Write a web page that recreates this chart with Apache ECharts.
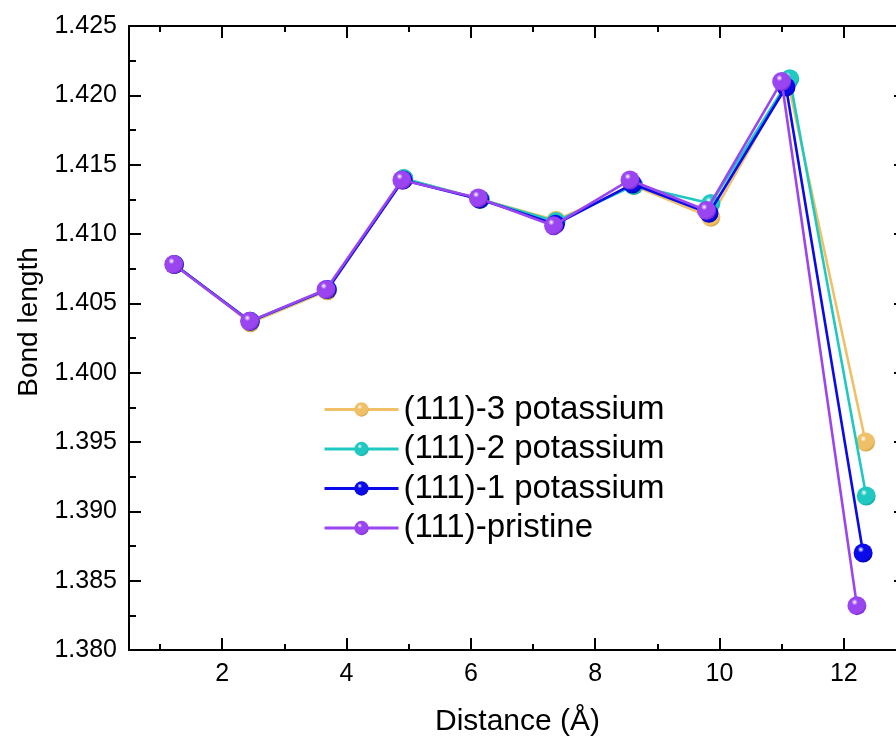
<!DOCTYPE html>
<html>
<head>
<meta charset="utf-8">
<script src="https://cdn.jsdelivr.net/npm/echarts@6/dist/echarts.min.js"></script>
<style>
html,body{margin:0;padding:0;background:#fff;}
#chart{width:896px;height:740px;}
</style>
</head>
<body>
<div id="chart"></div>
<script>
// ---- data ----
var seriesNames = ['(111)-3 potassium', '(111)-2 potassium', '(111)-1 potassium', '(111)-pristine'];

var k3X = [1.23, 2.45, 3.69, 4.92, 6.15, 7.37, 8.62, 9.86, 11.10, 12.35];
var k3Y = [1.4078, 1.4036, 1.4059, 1.4140, 1.4125, 1.4110, 1.4135, 1.4112, 1.4210, 1.3950];

var k2X = [1.23, 2.45, 3.69, 4.92, 6.15, 7.37, 8.62, 9.86, 11.13, 12.36];
var k2Y = [1.4078, 1.4037, 1.4060, 1.4140, 1.4125, 1.4109, 1.4135, 1.4122, 1.4212, 1.3911];

var k1X = [1.23, 2.45, 3.69, 4.91, 6.14, 7.36, 8.60, 9.83, 11.07, 12.31];
var k1Y = [1.4078, 1.4037, 1.4060, 1.4139, 1.4125, 1.4107, 1.4136, 1.4115, 1.4206, 1.3870];

var prX = [1.22, 2.44, 3.67, 4.89, 6.12, 7.33, 8.56, 9.79, 11.00, 12.21];
var prY = [1.4078, 1.4037, 1.4060, 1.4139, 1.4126, 1.4106, 1.4139, 1.4117, 1.4210, 1.3832];

var xMajorTicks = [2, 4, 6, 8, 10, 12];
var xMinorTicks = [1, 3, 5, 7, 9, 11, 13];

// ---- styling ----
var colors = ['#EFC067', '#1FC9C1', '#0A0AEB', '#9B45F0'];
var darks  = ['#C9962F', '#0F9C95', '#00009A', '#6A1DC0'];
var FONT = 'Liberation Sans, Arial, sans-serif';

function zip(xs, ys) { return xs.map(function (x, i) { return [x, ys[i]]; }); }
function ball(i) {
  return {
    type: 'radial', x: 0.38, y: 0.32, r: 0.75,
    colorStops: [
      { offset: 0, color: '#ffffff' },
      { offset: 0.22, color: colors[i] },
      { offset: 0.75, color: colors[i] },
      { offset: 1, color: darks[i] }
    ]
  };
}

var datasets = [zip(k3X, k3Y), zip(k2X, k2Y), zip(k1X, k1Y), zip(prX, prY)];

var axisLineStyle = { color: '#000', width: 2 };

function xAxisDef(pos, ticks, len, labels, name) {
  var a = {
    type: 'value', position: pos, min: 0.5, max: 13, gridIndex: 0,
    axisLine: { show: true, onZero: false, lineStyle: axisLineStyle },
    axisTick: { show: true, inside: true, length: len, customValues: ticks, lineStyle: { color: '#000', width: 2 } },
    axisLabel: labels ? { show: true, customValues: ticks, color: '#000', fontSize: 25, fontFamily: FONT, margin: 12 } : { show: false },
    splitLine: { show: false }
  };
  if (name) {
    a.name = name; a.nameLocation = 'middle'; a.nameGap = 57;
    a.nameTextStyle = { color: '#000', fontSize: 30, fontFamily: FONT };
  }
  return a;
}

function yAxisDef(pos, labels, name) {
  var a = {
    type: 'value', position: pos, min: 1.380, max: 1.425, interval: 0.005,
    axisLine: { show: true, onZero: false, lineStyle: axisLineStyle },
    axisTick: { show: true, inside: true, length: 12, lineStyle: { color: '#000', width: 2 } },
    minorTick: { show: true, splitNumber: 2, length: 7, lineStyle: { color: '#000', width: 2 } },
    axisLabel: labels ? { show: true, color: '#000', fontSize: 25, fontFamily: FONT, margin: 12,
      formatter: function (v) { return v.toFixed(3); } } : { show: false },
    splitLine: { show: false }
  };
  if (name) {
    a.name = name; a.nameLocation = 'middle'; a.nameGap = 86;
    a.nameTextStyle = { color: '#000', fontSize: 28, fontFamily: FONT, padding: [0, 0, 0, 32] };
  }
  return a;
}

var series = datasets.map(function (d, i) {
  return {
    name: seriesNames[i], type: 'line', data: d,
    xAxisIndex: 0, yAxisIndex: 0,
    symbol: 'circle', symbolSize: 19, showSymbol: true,
    lineStyle: { color: colors[i], width: 2.6 },
    itemStyle: { color: ball(i), borderWidth: 0 },
    emphasis: { disabled: true },
    z: 2 + i
  };
});

var option = {
  animation: false,
  backgroundColor: '#fff',
  grid: { left: 129, top: 26, width: 777, bottom: 90, containLabel: false, outerBoundsMode: 'none' },
  xAxis: [
    xAxisDef('bottom', xMajorTicks, 12, true, 'Distance (Å)'),
    xAxisDef('bottom', xMinorTicks, 6, false),
    xAxisDef('top', xMajorTicks, 12, false),
    xAxisDef('top', xMinorTicks, 6, false)
  ],
  yAxis: [
    yAxisDef('left', true, 'Bond length'),
    yAxisDef('right', false)
  ],
  legend: {
    orient: 'vertical', left: 318, top: 388,
    data: seriesNames,
    itemWidth: 74, itemHeight: 18, itemGap: 6.5,
    lineStyle: { width: 3 },
    textStyle: { color: '#000', fontSize: 33, fontFamily: FONT },
    selectedMode: false
  },
  series: series
};

var chart = echarts.init(document.getElementById('chart'), null, { renderer: 'canvas' });
chart.setOption(option);
</script>
</body>
</html>
